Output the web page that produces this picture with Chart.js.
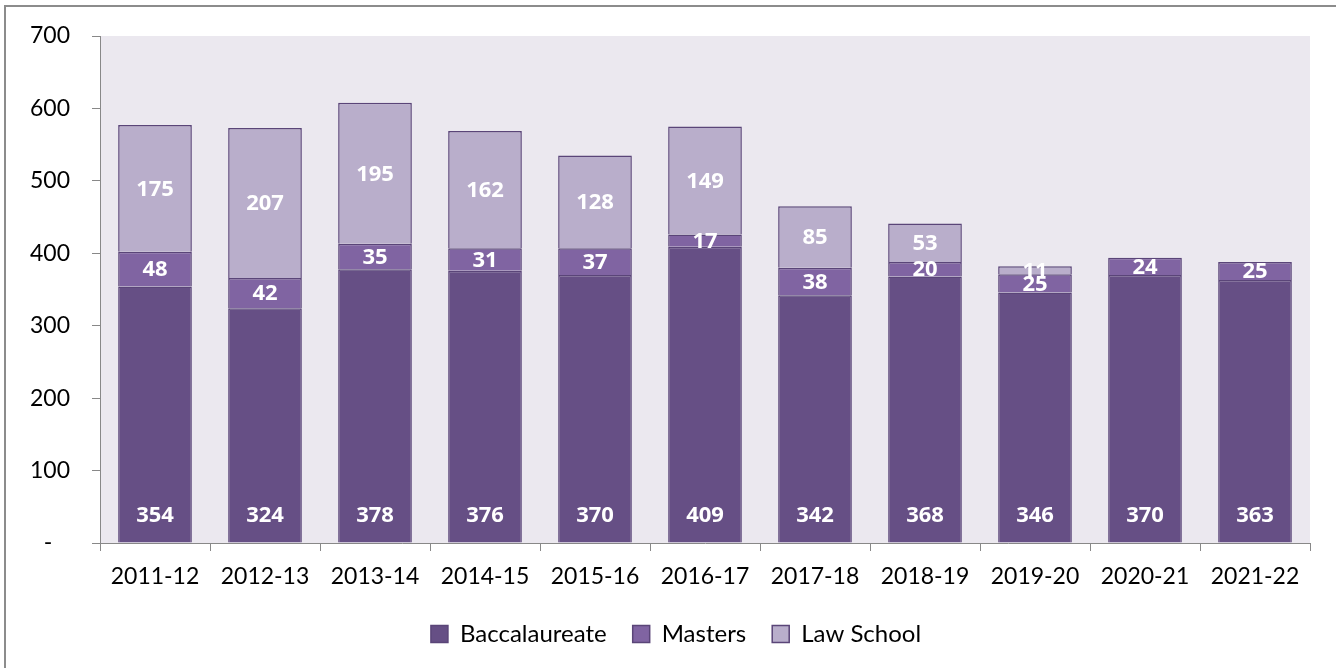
<!DOCTYPE html>
<html>
<head>
<meta charset="utf-8">
<script src="https://cdn.jsdelivr.net/npm/chart.js@4.4.0/dist/chart.umd.min.js"></script>
<style>
    html, body { margin: 0; padding: 0; background: #fff; }
    #wrap { width: 1336px; height: 668px; }
</style>
</head>
<body>
<div id="wrap"><canvas id="enrollChart" width="1336" height="668"></canvas></div>
<script>
var years = ["2011-12", "2012-13", "2013-14", "2014-15", "2015-16", "2016-17", "2017-18", "2018-19", "2019-20", "2020-21", "2021-22"];
var baccalaureate = [354, 324, 378, 376, 370, 409, 342, 368, 346, 370, 363];
var masters = [48, 42, 35, 31, 37, 17, 38, 20, 25, 24, 25];
var lawSchool = [175, 207, 195, 162, 128, 149, 85, 53, 11, 0, 0];
var yTicks = [0, 100, 200, 300, 400, 500, 600, 700];

var fontName = "Lato, 'Open Sans', sans-serif";

// plot background + outer frame (only top/left edge fall inside the picture)
var frame = {
    id: 'frame',
    beforeDraw: function (chart) {
        var ctx = chart.ctx;
        var a = chart.chartArea;
        ctx.save();
        ctx.fillStyle = '#fff';
        ctx.fillRect(0, 0, chart.width, chart.height);
        ctx.fillStyle = '#EBE8EF';
        ctx.fillRect(a.left, a.top, a.right - a.left, a.bottom - a.top);
        ctx.strokeStyle = '#8C8C8C';
        ctx.lineWidth = 2;
        ctx.beginPath();
        ctx.moveTo(5, 668);
        ctx.lineTo(5, 6);
        ctx.lineTo(1336, 6);
        ctx.stroke();
        ctx.restore();
    },
    // legend in the original sits centred on the whole frame, not on the plot
    afterLayout: function (chart) {
        if (chart.legend) {
            chart.legend.left += 21;
            chart.legend.right += 21;
        }
    }
};

// white value labels inside the bars
var valueLabels = {
    id: 'valueLabels',
    afterDatasetsDraw: function (chart) {
        var ctx = chart.ctx;
        ctx.save();
        ctx.fillStyle = '#fff';
        ctx.font = "bold 22px 'Open Sans', Lato, sans-serif";
        ctx.textAlign = 'center';
        ctx.textBaseline = 'middle';
        chart.data.datasets.forEach(function (ds, i) {
            var meta = chart.getDatasetMeta(i);
            meta.data.forEach(function (bar, j) {
                var v = ds.data[j];
                if (!v) return;
                var y = i === 0 ? bar.base - 27 : (bar.y + bar.base) / 2 + 1;
                ctx.fillText(String(v), bar.x, y);
            });
        });
        ctx.restore();
    }
};

var ctx = document.getElementById('enrollChart').getContext('2d');
var enrollChart = new Chart(ctx, {
    type: 'bar',
    data: {
        labels: years,
        datasets: [{
            label: 'Baccalaureate',
            data: baccalaureate,
            backgroundColor: '#664F85',
            borderColor: '#5A4578',
            borderWidth: 1.5
        }, {
            label: 'Masters',
            data: masters,
            backgroundColor: '#8064A2',
            borderColor: '#5A4578',
            borderWidth: 1.5
        }, {
            label: 'Law School',
            data: lawSchool,
            backgroundColor: '#B9AECB',
            borderColor: '#5A4578',
            borderWidth: 1.5
        }]
    },
    options: {
        responsive: false,
        animation: false,
        categoryPercentage: 1,
        barPercentage: 0.67,
        layout: { padding: { left: 0, top: 36, right: 26, bottom: 12 } },
        scales: {
            x: {
                stacked: true,
                grid: { drawOnChartArea: false, tickLength: 8, color: '#888' },
                border: { color: '#888', width: 1 },
                ticks: { color: '#000', font: { family: fontName, size: 23 }, padding: 12, maxRotation: 0 },
                afterFit: function (scale) { scale.height = 53; }
            },
            y: {
                stacked: true,
                min: 0,
                max: 700,
                grid: { drawOnChartArea: false, tickLength: 8, color: '#888' },
                border: { color: '#888', width: 1 },
                afterBuildTicks: function (scale) {
                    scale.ticks = yTicks.map(function (v) { return { value: v }; });
                },
                ticks: {
                    color: '#000',
                    font: { family: fontName, size: 23 },
                    padding: 22,
                    callback: function (v) { return v === 0 ? '-   ' : v; }
                },
                afterFit: function (scale) { scale.width = 100; }
            }
        },
        plugins: {
            legend: {
                position: 'bottom',
                labels: {
                    color: '#000',
                    font: { family: fontName, size: 24 },
                    boxWidth: 17,
                    boxHeight: 17,
                    padding: 26
                }
            },
            tooltip: { enabled: false }
        }
    },
    plugins: [frame, valueLabels]
});
</script>
</body>
</html>
